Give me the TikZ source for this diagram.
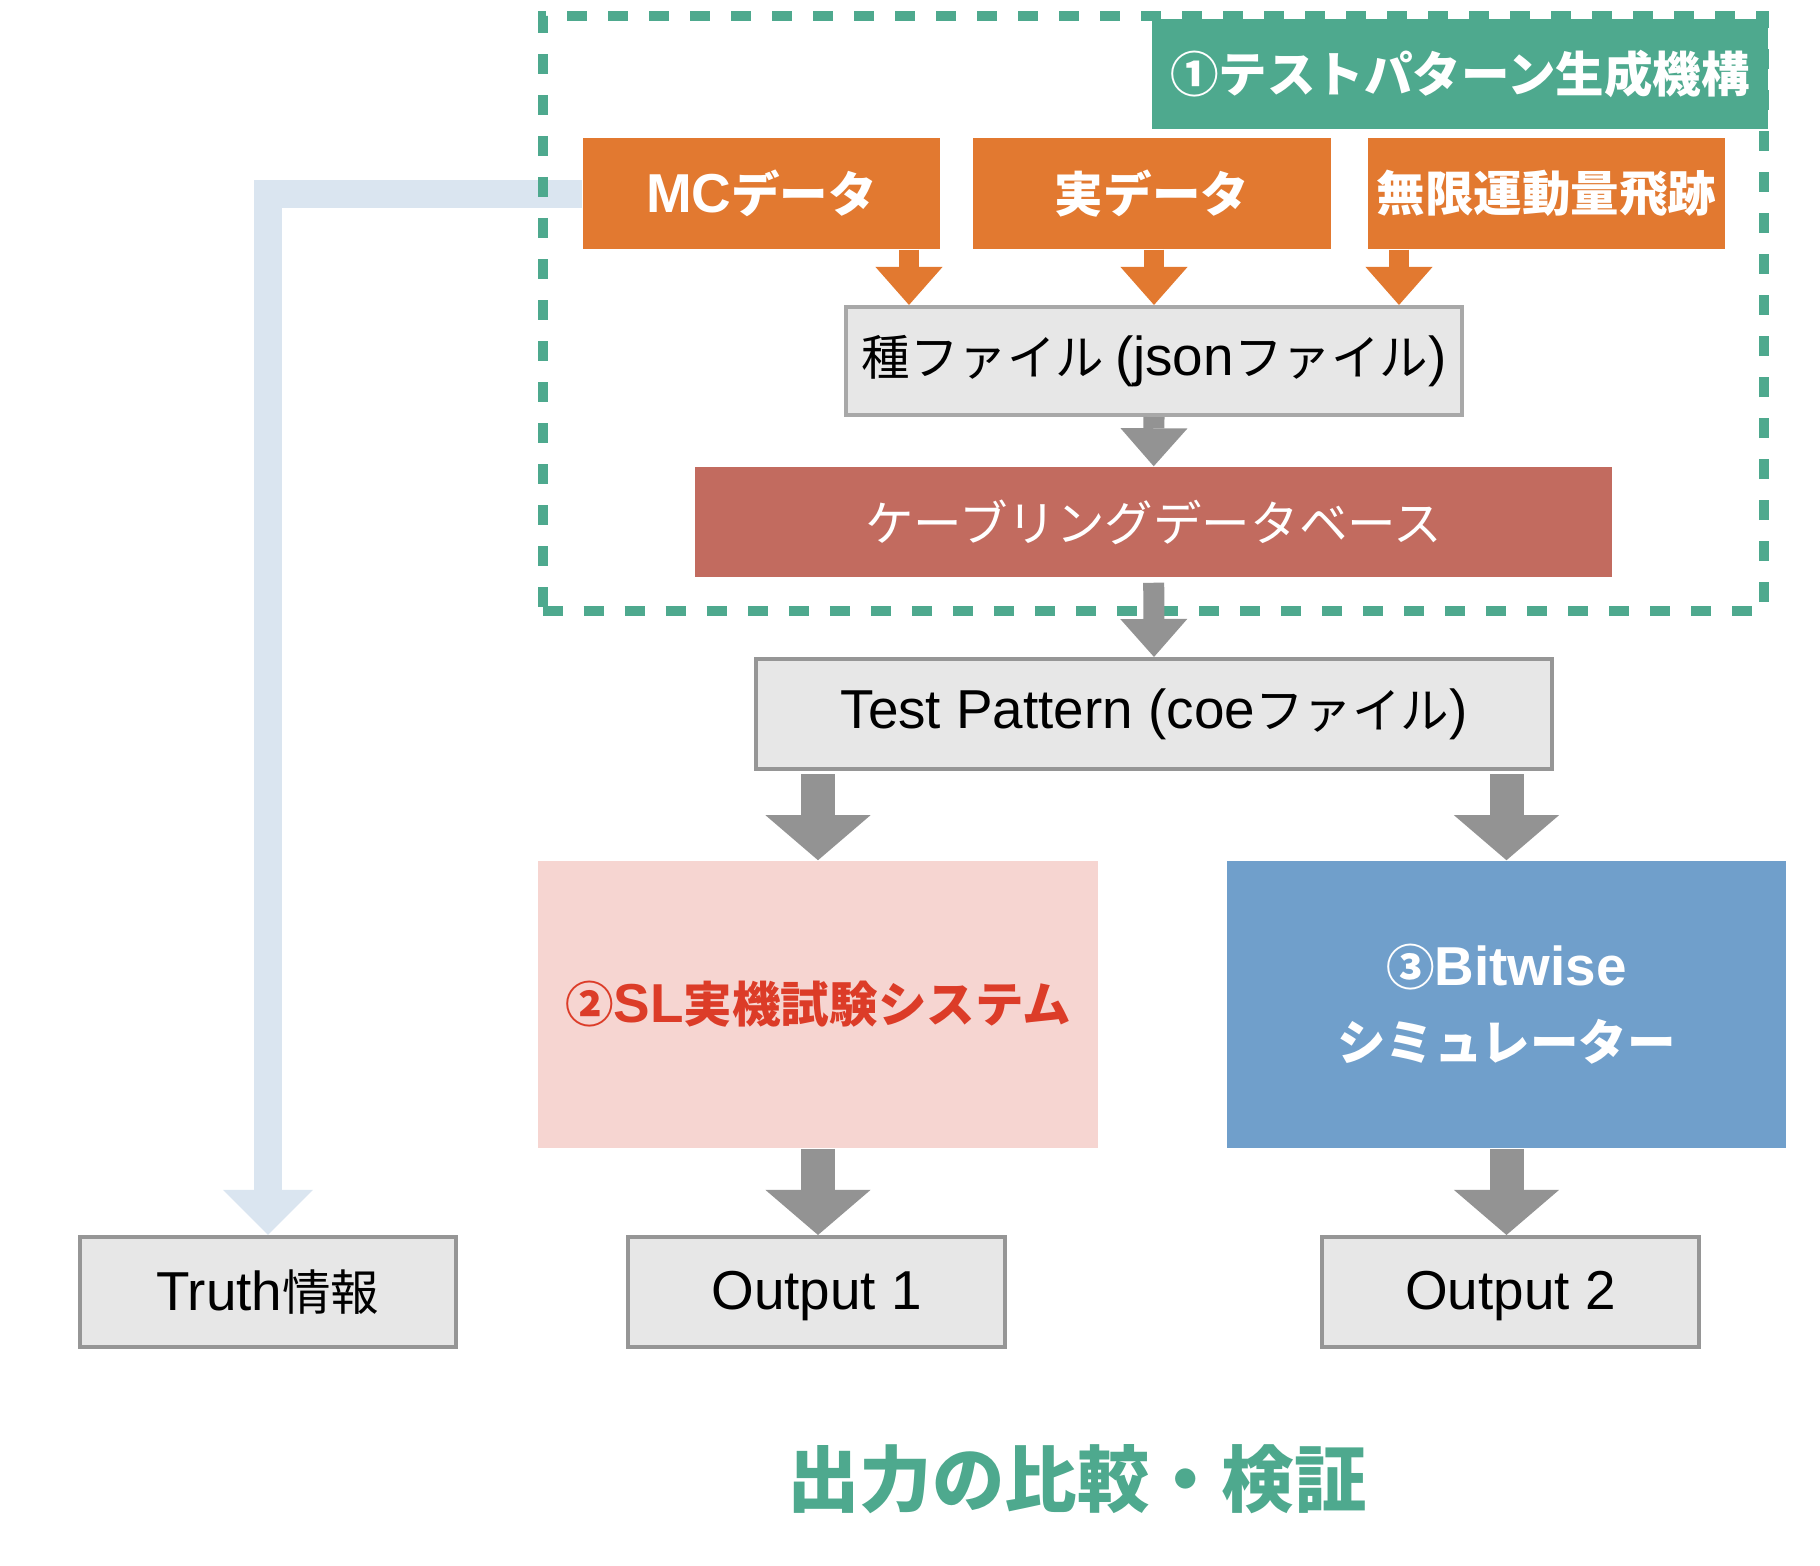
\documentclass[tikz,border=0pt]{standalone}
\usepackage{fontspec}
\setmainfont{Noto Sans CJK JP}
\newfontfamily\lt{Liberation Sans}[Scale=1.13]
\usetikzlibrary{arrows.meta}
\definecolor{cGreen}{RGB}{78,169,142}
\definecolor{cOrange}{RGB}{226,121,48}
\definecolor{cBoxFill}{RGB}{231,231,231}
\definecolor{cBoxLine}{RGB}{150,150,150}
\definecolor{cSeedLine}{RGB}{168,168,168}
\definecolor{cArrow}{RGB}{147,147,147}
\definecolor{cCab}{RGB}{194,107,95}
\definecolor{cSL}{RGB}{246,213,209}
\definecolor{cSLText}{RGB}{220,60,40}
\definecolor{cBW}{RGB}{112,159,203}
\definecolor{cLight}{RGB}{218,229,240}
\tikzset{
  base/.style={rectangle, inner sep=0pt, align=center,
    font=\fontsize{13.8}{21.3}\selectfont},
  boldbase/.style={base, font=\fontsize{13.8}{21.3}\selectfont\bfseries},
  orangebox/.style={boldbase, fill=cOrange, text=white,
    minimum width=3.57cm, minimum height=1.11cm},
  graybox/.style={base, fill=cBoxFill, draw=cBoxLine, line width=0.04cm},
  arrO/.style={draw=cOrange, line width=0.196cm,
    -{Triangle[width=0.67cm,length=0.38cm,line width=0pt]}},
  arrS/.style={draw=cArrow, line width=0.21cm,
    -{Triangle[width=0.67cm,length=0.38cm,line width=0pt]}},
  arrL/.style={draw=cArrow, line width=0.34cm,
    -{Triangle[width=1.05cm,length=0.45cm,line width=0pt]}},
  arrB/.style={draw=cLight, line width=0.28cm, line join=miter,
    -{Triangle[width=0.90cm,length=0.45cm,line width=0pt]}},
}
\begin{document}
\begin{tikzpicture}[x=0.01cm,y=-0.01cm]
\useasboundingbox (0,0) rectangle (1820,1566);

% nodes
\node[graybox, minimum width=3.76cm, minimum height=1.10cm] (truth) at (268,1292) {{\lt Truth}情報};
\node[orangebox] (mc) at (761.5,193.5) {{\lt MC}データ};

% light blue connector (drawn beneath the frame)
\draw[arrB] (mc.west) -| (truth.north);

\node[boldbase, fill=cGreen, text=white, minimum width=6.16cm, minimum height=1.10cm]
  (title) at (1460,74) {①テストパターン生成機構};
\node[rectangle, draw=cGreen, line width=0.1cm, dash pattern=on 0.2cm off 0.21cm,
  minimum width=12.21cm, minimum height=5.95cm, inner sep=0pt] (frame) at (1153.5,313.5) {};

\node[orangebox] (jitsu) at (1152,193.5) {実データ};
\node[orangebox] (mugen) at (1546.5,193.5) {無限運動量飛跡};

\node[graybox, draw=cSeedLine, minimum width=6.15cm, minimum height=1.08cm]
  (seed) at (1154,361) {種ファイル {\lt (json}ファイル{\lt )}};
\node[base, fill=cCab, text=white, minimum width=9.17cm, minimum height=1.10cm]
  (cab) at (1153.7,522) {ケーブリングデータベース};
\node[graybox, minimum width=7.96cm, minimum height=1.10cm]
  (tp) at (1154,714) {{\lt Test Pattern (coe}ファイル{\lt )}};
\node[boldbase, fill=cSL, text=cSLText, minimum width=5.60cm, minimum height=2.87cm]
  (sl) at (818,1004.5) {②{\lt SL}実機試験システム};
\node[boldbase, fill=cBW, text=white, minimum width=5.59cm, minimum height=2.87cm]
  (bw) at (1506.5,1004.5) {③{\lt Bitwise}\\シミュレーター};
\node[graybox, minimum width=3.76cm, minimum height=1.10cm] (out1) at (816.6,1292)
  {\raisebox{-0.055cm}{\lt Output 1}\vphantom{情}};
\node[graybox, minimum width=3.76cm, minimum height=1.10cm] (out2) at (1510.5,1292)
  {\raisebox{-0.055cm}{\lt Output 2}\vphantom{情}};
\node[font=\fontsize{20.6}{24}\selectfont\bfseries, text=cGreen, inner sep=0pt]
  (verify) at (1077,1479) {出力の比較・検証};

% arrow columns
\coordinate (xa) at (909,0);
\coordinate (xb) at (1154,0);
\coordinate (xc) at (1399,0);

% orange arrows
\draw[arrO] (mc.south -| xa) -- (seed.north -| xa);
\draw[arrO] (jitsu.south -| xb) -- (seed.north -| xb);
\draw[arrO] (mugen.south -| xc) -- (seed.north -| xc);

% gray arrows
\draw[arrS] (seed.south) -- (cab.north);
\draw[arrS, shorten <=0.05cm] (cab.south) -- (tp.north);
\draw[arrL, shorten <=0.03cm] (tp.south -| sl.north) -- (sl.north);
\draw[arrL, shorten <=0.03cm] (tp.south -| bw.north) -- (bw.north);
\draw[arrL] (sl.south) -- (sl.south |- out1.north);
\draw[arrL] (bw.south) -- (bw.south |- out2.north);
\end{tikzpicture}
\end{document}
